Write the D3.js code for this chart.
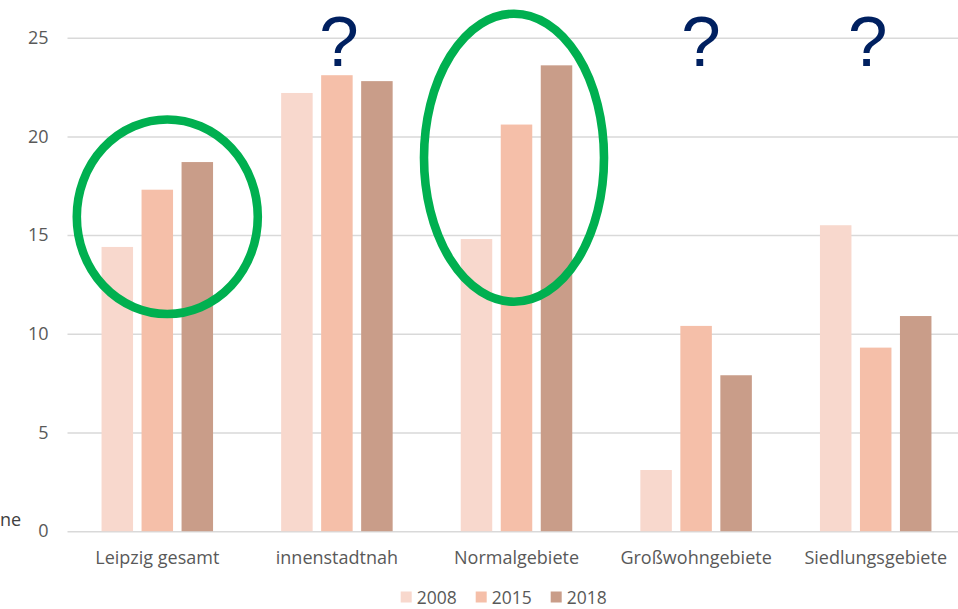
<!DOCTYPE html>
<html><head><meta charset="utf-8">
<script src="https://cdn.jsdelivr.net/npm/d3@7"></script>
<style>html,body{margin:0;padding:0;background:#fff;overflow:hidden}</style>
</head><body>
<svg id="chart" width="958" height="609"></svg>
<script>
const categories = ["Leipzig gesamt", "innenstadtnah", "Normalgebiete", "Großwohngebiete", "Siedlungsgebiete"];
const years = ["2008", "2015", "2018"];
const values2008 = [14.4, 22.2, 14.8, 3.1, 15.5];
const values2015 = [17.3, 23.1, 20.6, 10.4, 9.3];
const values2018 = [18.7, 22.8, 23.6, 7.9, 10.9];
const yTicks = [0, 5, 10, 15, 20, 25];
const colors = ["#F8D8CD", "#F5BFA9", "#C99D89"];
// annotations: circled categories (center value, x offset, radii) and question-marked categories
const circled = [
  {cat: "Leipzig gesamt", cy: 15.93, dx: 10, rx: 90.5, ry: 97.3},
  {cat: "Normalgebiete", cy: 18.92, dx: -2.5, rx: 90, ry: 144}
];
const questioned = [
  {cat: "innenstadtnah", dx: 2},
  {cat: "Großwohngebiete", dx: 5},
  {cat: "Siedlungsgebiete", dx: -8}
];

const series = [values2008, values2015, values2018];
const data = categories.map((c, i) => ({cat: c, vals: years.map((y, j) => ({year: y, v: series[j][i]}))}));

const svg = d3.select("#chart");
const font = "'Open Sans', sans-serif";

const y = d3.scaleLinear().domain([0, 25]).range([531.2, 37.7]);
const x0 = d3.scaleBand().domain(categories).range([67.5, 965.5]).paddingInner(0).paddingOuter(0);
const x1 = d3.scaleBand().domain(years).range([0, x0.bandwidth()]).paddingInner(0.2125).paddingOuter(0.851);
const color = d3.scaleOrdinal().domain(years).range(colors);

// gridlines
const yAxis = d3.axisLeft(y).tickValues(yTicks).tickSize(-(958 - 67.5)).tickPadding(19);
const gy = svg.append("g").attr("transform", "translate(67.5,0)").call(yAxis);
gy.select(".domain").remove();
gy.selectAll(".tick line").attr("stroke", "#D9D9D9").attr("stroke-width", 1.5);
gy.selectAll(".tick text").attr("fill", "#595959").style("font-family", font).style("font-size", "18px");

// bars
const groups = svg.append("g").selectAll("g").data(data).join("g")
  .attr("transform", d => `translate(${x0(d.cat)},0)`);
groups.selectAll("rect").data(d => d.vals).join("rect")
  .attr("x", d => x1(d.year))
  .attr("width", x1.bandwidth())
  .attr("y", d => y(d.v))
  .attr("height", d => y(0) - y(d.v))
  .attr("fill", d => color(d.year));

// x axis
const xAxis = d3.axisBottom(x0).tickSize(0).tickPadding(20);
const gx = svg.append("g").attr("transform", `translate(0,${y(0)})`).call(xAxis);
gx.select(".domain").remove();
gx.selectAll(".tick text").attr("fill", "#595959").style("font-family", font).style("font-size", "18px");

// cut-off axis title fragment
svg.append("text").attr("x", 0).attr("y", 526).attr("text-anchor", "start")
  .attr("fill", "#404040").style("font-family", font).style("font-size", "18px").text("ne");

// legend
const legend = svg.append("g").attr("transform", "translate(400.7,591.5)");
const li = legend.selectAll("g").data(years).join("g").attr("transform", (d, i) => `translate(${i * 75},0)`);
li.append("rect").attr("width", 11).attr("height", 11).attr("fill", d => color(d));
li.append("text").attr("x", 16).attr("y", 12.8).attr("fill", "#595959")
  .style("font-family", font).style("font-size", "17.5px").text(d => d);

// annotations
svg.append("g").selectAll("ellipse").data(circled).join("ellipse")
  .attr("cx", d => x0(d.cat) + x0.bandwidth() / 2 + d.dx)
  .attr("cy", d => y(d.cy))
  .attr("rx", d => d.rx).attr("ry", d => d.ry)
  .attr("fill", "none").attr("stroke", "#00B050").attr("stroke-width", 8.6);

svg.append("g").selectAll("text").data(questioned).join("text")
  .attr("x", d => x0(d.cat) + x0.bandwidth() / 2 + d.dx)
  .attr("y", 65.5)
  .attr("text-anchor", "middle")
  .attr("fill", "#002060")
  .style("font-family", "'Liberation Sans', Arial, sans-serif")
  .style("font-size", "71px")
  .text("?");
</script>
</body></html>
